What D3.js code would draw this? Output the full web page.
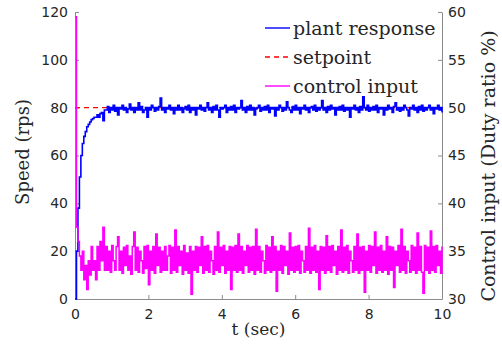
<!DOCTYPE html>
<html>
<head>
<meta charset="utf-8">
<title>Speed control response</title>
<script src="https://d3js.org/d3.v7.min.js"></script>
<style>
  body { margin: 0; background: #fff; }
  .tick text { font-family: "DejaVu Sans", sans-serif; font-size: 14px; fill: #262626; }
  .lbl { font-family: "DejaVu Serif", serif; fill: #262626; }
</style>
</head>
<body>
<div id="my_dataviz"></div>
<script>

// sample step of the logged signals (sec)
var dt = 0.04;

// plant response, speed (rps), one value every dt from t = 0
var speed = [
  0, 20, 38, 51, 60, 65, 68, 70, 72, 73, 74, 75, 75.5, 76, 76, 77, 76, 77.5, 78, 74.5, 79,
  79, 80.5, 78, 80, 79, 81, 78.5, 80, 77, 80,
  79.5, 81, 79, 80, 78, 79.5, 81.5, 79, 80, 78,
  80, 79, 82, 79, 80.5, 78, 79, 80, 76, 80,
  79, 81, 80, 78.5, 80, 79, 80.5, 84, 79, 80,
  78, 80, 79.5, 81, 79, 80, 77.5, 80, 79, 81,
  79, 80, 78, 79.5, 80.5, 79, 81, 78, 80, 79,
  80, 77, 80, 79.5, 81, 79, 80, 78.5, 80, 82,
  79, 80, 78, 80.5, 79, 81, 79, 76, 80, 79.5,
  80, 81, 78, 80, 79, 80.5, 79, 81, 78, 80,
  79.5, 80, 83, 79, 80, 78, 80.5, 79, 81, 79,
  80, 77, 79.5, 80, 81, 78.5, 80, 79, 80.5, 79,
  81, 78, 80, 79.5, 80, 76.5, 80, 79, 81, 80,
  78.5, 80, 79, 82.5, 80, 79, 78, 80.5, 79, 81,
  79, 80, 77.5, 80, 79.5, 81, 79, 80, 78, 80,
  80.5, 79, 81, 78.5, 80, 79, 80, 83, 79, 80,
  78, 80.5, 79, 81, 79.5, 80, 77, 80, 79, 80.5,
  79, 81, 78.5, 80, 79, 80, 76, 80, 79.5, 81,
  79, 80, 78, 80.5, 79, 84.5, 80, 79, 81, 78.5,
  80, 79, 80.5, 79, 81, 78, 80, 79.5, 80, 77,
  80, 79, 81, 79.5, 80, 78, 80.5, 82, 79, 80,
  78.5, 80, 79, 81, 80, 79, 76.5, 80, 79.5, 81,
  79, 80, 78, 80.5, 79, 81, 78.5, 80, 79, 80,
  81, 79, 80, 77.5, 80, 79.5, 81, 79, 80, 78
];

// control input, duty ratio (%), same sampling
var duty = [
  59.5, 37.5, 36, 34.5, 33, 35, 32, 33.5, 31, 34, 32.5, 35.5, 33, 34, 32, 35.5, 33, 36, 34, 37.5, 33,
  35.5, 33, 35, 32.8, 35.6, 34, 33, 35.5, 36.5, 33,
  35, 32.7, 35.4, 33.5, 35.6, 33, 34.5, 32.6, 35.5, 37,
  33, 35.4, 32.8, 35, 34, 32.7, 35.5, 33.2, 35.6, 31.5,
  35, 33, 35.5, 32.7, 36.8, 33.5, 35.4, 32.8, 35, 33,
  35.5, 33, 34.5, 35.6, 32.7, 35.4, 33, 37.2, 32.8, 35.5,
  33.5, 35, 32.6, 35.6, 33, 34.8, 32.7, 35.5, 30.5, 35,
  33, 35.5, 32.8, 35.4, 33.5, 36.5, 32.7, 35.5, 33, 35.6,
  32.8, 35, 34, 32.6, 35.5, 33, 37, 32.8, 35.4, 33.5,
  35.6, 32.7, 35, 33, 35.5, 31, 35.4, 33, 35.6, 32.8,
  36.8, 33, 35.5, 32.7, 35, 33.5, 35.6, 32.8, 35.4, 33,
  35.5, 32.6, 37.3, 33, 35.5, 32.8, 35, 34, 32.7, 35.6,
  33, 35.4, 32.8, 36.5, 33, 35.5, 30.8, 35, 33, 35.6,
  32.7, 35.5, 33.5, 35, 32.6, 36.9, 33, 35.4, 32.8, 35.5,
  33, 35.6, 32.7, 35, 34, 32.8, 35.5, 33, 37.4, 32.7,
  35.4, 33, 35.6, 32.8, 35, 31, 35.5, 33, 35.4, 32.7,
  36.6, 33, 35.5, 32.8, 35.6, 33.5, 35, 32.6, 35.5, 33,
  37.2, 32.8, 35.4, 33, 35.6, 32.7, 35, 34, 32.8, 35.5,
  33, 36.8, 32.7, 35.4, 33, 35.5, 30.7, 35, 33, 35.6,
  32.8, 35.5, 33.5, 37, 32.7, 35.4, 33, 35.6, 32.8, 35,
  33, 36.5, 32.6, 35.5, 33, 35.4, 31.2, 35, 33.5, 35.6,
  32.8, 37.3, 33, 35.5, 32.7, 35, 34, 32.8, 35.6, 33,
  35.4, 32.7, 36.9, 33, 35.5, 32.8, 30.6, 35.6, 33, 35.4,
  32.7, 37.1, 33, 35.5, 32.8, 35.6, 33.5, 35, 32.7, 35.5
];

var setpoint = 80;

var xTicks = [0, 2, 4, 6, 8, 10];
var yLeftTicks = [0, 20, 40, 60, 80, 100, 120];
var yRightTicks = [30, 35, 40, 45, 50, 55, 60];

var legendNames = ["plant response", "setpoint", "control input"];

// set the dimensions and margins of the graph
var margin = {top: 12, right: 60, bottom: 55, left: 75},
    width = 442 - margin.left,
    height = 299 - margin.top;

var svg = d3.select("#my_dataviz")
  .append("svg")
    .attr("width", 502)
    .attr("height", 354)
  .append("g")
    .attr("transform", "translate(" + margin.left + "," + margin.top + ")");

var x = d3.scaleLinear().domain([0, 10]).range([0, width]);
var yL = d3.scaleLinear().domain([0, 120]).range([height, 0]);
var yR = d3.scaleLinear().domain([30, 60]).range([height, 0]);

// axes, MATLAB style ticks pointing inward
var gx = svg.append("g")
  .attr("transform", "translate(0," + height + ")")
  .call(d3.axisBottom(x).tickValues(xTicks).tickSizeInner(-4).tickSizeOuter(0).tickPadding(10));
var gl = svg.append("g")
  .call(d3.axisLeft(yL).tickValues(yLeftTicks).tickSizeInner(-4).tickSizeOuter(0).tickPadding(7));
var gr = svg.append("g")
  .attr("transform", "translate(" + width + ",0)")
  .call(d3.axisRight(yR).tickValues(yRightTicks).tickSizeInner(-4).tickSizeOuter(0).tickPadding(6));

[gx, gl, gr].forEach(function(g) {
  g.select(".domain").attr("stroke", "#8c8c8c");
  g.selectAll(".tick line").attr("stroke", "#8c8c8c");
});

// setpoint
svg.append("line")
  .attr("x1", x(0)).attr("x2", x(10))
  .attr("y1", yL(setpoint)).attr("y2", yL(setpoint))
  .attr("stroke", "#ff0000")
  .attr("stroke-width", 1.4)
  .attr("stroke-dasharray", "5,4");

// plant response (sampled, held between samples)
svg.append("path")
  .datum(speed)
  .attr("fill", "none")
  .attr("stroke", "#0000ff")
  .attr("stroke-width", 1.6)
  .attr("d", d3.line()
    .curve(d3.curveStepAfter)
    .x(function(d, i) { return x(i * dt); })
    .y(function(d) { return yL(d); }));

// control input on the right axis
svg.append("path")
  .datum(duty)
  .attr("fill", "none")
  .attr("stroke", "#ff00ff")
  .attr("stroke-width", 1.5)
  .attr("d", d3.line()
    .curve(d3.curveStepAfter)
    .x(function(d, i) { return x(i * dt); })
    .y(function(d) { return yR(d); }));

// axis labels
svg.append("text").attr("class", "lbl")
  .attr("x", width / 2).attr("y", 335 - margin.top)
  .attr("text-anchor", "middle")
  .style("font-size", "17px")
  .text("t (sec)");

svg.append("text").attr("class", "lbl")
  .attr("transform", "translate(" + (29 - margin.left) + "," + (152 - margin.top) + ") rotate(-90)")
  .attr("text-anchor", "middle")
  .style("font-size", "18px")
  .text("Speed (rps)");

svg.append("text").attr("class", "lbl")
  .attr("transform", "translate(" + (495 - margin.left) + "," + (166 - margin.top) + ") rotate(-90)")
  .attr("text-anchor", "middle")
  .style("font-size", "19px")
  .text("Control input (Duty ratio %)");

// legend
var legColors = ["#0000ff", "#ff0000", "#ff00ff"];
var leg = svg.append("g").attr("transform", "translate(" + (265 - margin.left) + "," + (28 - margin.top) + ")");
legendNames.forEach(function(name, i) {
  var row = leg.append("g").attr("transform", "translate(0," + (i * 29) + ")");
  row.append("line")
    .attr("x1", 0).attr("x2", 25).attr("y1", 0).attr("y2", 0)
    .attr("stroke", legColors[i])
    .attr("stroke-width", 1.4)
    .attr("stroke-dasharray", i == 1 ? "5,4" : null);
  row.append("text").attr("class", "lbl")
    .attr("x", 28).attr("y", 7)
    .style("font-size", "19px")
    .text(name);
});

</script>
</body>
</html>
